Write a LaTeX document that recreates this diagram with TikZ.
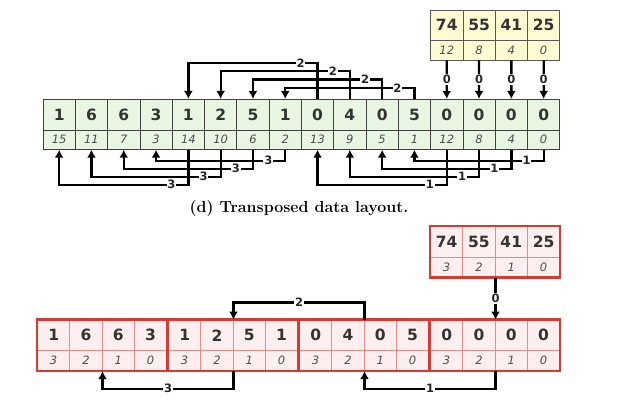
\documentclass[tikz,border=0pt]{standalone}
\usepackage{fontspec}
\newfontfamily\cellfont{DejaVu Sans}
\usetikzlibrary{arrows.meta}

\definecolor{greenfill}{HTML}{E7F5E1}
\definecolor{yellowfill}{HTML}{FFFAD2}
\definecolor{redfill}{HTML}{FDEFEF}
\definecolor{redline}{HTML}{D93A2F}
\definecolor{redgrid}{HTML}{EA8A82}

\tikzset{
  link/.style={line width=2.3pt, -{Latex[length=8pt,width=9pt]}},
  lbl/.style={fill=white, inner sep=0.8pt, text=black!85,
    font=\cellfont\bfseries\fontsize{11.5}{11.5}\selectfont},
  val/.style={minimum width=32.3pt, minimum height=30.7pt, inner sep=0pt, text=black!80,
    font=\cellfont\bfseries\fontsize{15.5}{15.5}\selectfont},
  idx/.style={minimum width=32.3pt, minimum height=19.5pt, inner sep=0pt, text=black!70,
    font=\cellfont\itshape\fontsize{11.5}{11.5}\selectfont},
  greencell/.style={draw=black!75, fill=greenfill, line width=0.7pt},
  yellowcell/.style={draw=black!65, fill=yellowfill, line width=0.7pt},
  redcell/.style={draw=redgrid, fill=redfill, line width=0.8pt},
}

\begin{document}
\begin{tikzpicture}[x=1pt, y=1pt]
    \fill [white] (0, 0) rectangle (627, 403);
    \useasboundingbox (0, 0) rectangle (627, 403);
    % Interleaved row
    \foreach \v [count=\k] in {1,6,6,3,1,2,5,1,0,4,0,5,0,0,0,0}
        \node [val, greencell] (v\k) at ({43+(\k-0.5)*32.3}, 288.35) {\v};
    \foreach \v [count=\k] in {15,11,7,3,14,10,6,2,13,9,5,1,12,8,4,0}
        \node [idx, greencell] (x\k) at ({43+(\k-0.5)*32.3}, 263.35) {\v};
    % Input values
    \foreach \v/\i [count=\k] in {74/12,55/8,41/4,25/0} {
        \node [val, yellowcell, minimum height=30pt] (y\k) at ({430.6+(\k-0.5)*32.3}, 378) {\v};
        \node [idx, yellowcell, minimum height=20pt] (yx\k) at ({430.6+(\k-0.5)*32.3}, 353) {\i};
    }
    \foreach \k [evaluate=\k as \j using int(\k+12)] in {1,...,4}
        \draw [link] (yx\k.south) -- node [lbl] {0} (v\j.north);
    % Moves over the top
    \foreach \s/\t/\h in {9/5/36, 10/6/27.7, 11/7/19.3, 12/8/11}
        \draw [link] (v\s.north) |- ++(-17, \h) node [lbl] {2} -| (v\t.north);
    % Moves underneath
    \foreach \s/\t/\h in {8/4/11, 7/3/19, 6/2/27, 5/1/35}
        \draw [link] (x\s.south) |- ++(-17, -\h) node [lbl] {3} -| (x\t.south);
    \foreach \s/\t/\h in {16/12/11, 15/11/19, 14/10/27, 13/9/35}
        \draw [link] (x\s.south) |- ++(-17, -\h) node [lbl] {1} -| (x\t.south);

    % Caption
    \node [anchor=base, font=\bfseries\fontsize{16}{16}\selectfont] (cap) at (299, 190)
        {(d) Transposed data layout.};

    % Transposed row
    \foreach \v [count=\k, evaluate=\k as \xx using {37.5+131*int((\k-1)/4)+(mod(\k-1,4)+0.5)*32.3},
                 evaluate=\k as \i using {int(3-mod(\k-1,4))}]
        in {1,6,6,3,1,2,5,1,0,4,0,5,0,0,0,0} {
        \node [val, redcell] (r\k) at (\xx, 67.65) {\v};
        \node [idx, redcell, minimum height=20pt] (rx\k) at (\xx, 42.3) {\i};
    }
    \foreach \g [evaluate=\g as \a using int(4*\g-3), evaluate=\g as \b using int(4*\g)] in {1,...,4}
        \draw [redline, line width=2.4pt] (r\a.north west) rectangle (rx\b.south east);
    % Transposed input
    \foreach \v/\i [count=\k] in {74/3,55/2,41/1,25/0} {
        \node [val, redcell, minimum height=30.6pt] (s\k) at ({430.5+(\k-0.5)*32.3}, 161) {\v};
        \node [idx, redcell, minimum height=20pt] (sx\k) at ({430.5+(\k-0.5)*32.3}, 135.7) {\i};
    }
    \draw [redline, line width=2.4pt] (s1.north west) rectangle (sx4.south east);
    \draw [link] (sx2.south east) -- node [lbl] {0} (r14.north east);
    \draw [link] (r10.north east) -- ++(0, 17) -| node [lbl, pos=0.25] {2} (r6.north east);
    \draw [link] (rx6.south east) -- ++(0, -17.6) -| node [lbl, pos=0.25] {3} (rx2.south east);
    \draw [link] (rx14.south east) -- ++(0, -17.6) -| node [lbl, pos=0.25] {1} (rx10.south east);
\end{tikzpicture}
\end{document}
